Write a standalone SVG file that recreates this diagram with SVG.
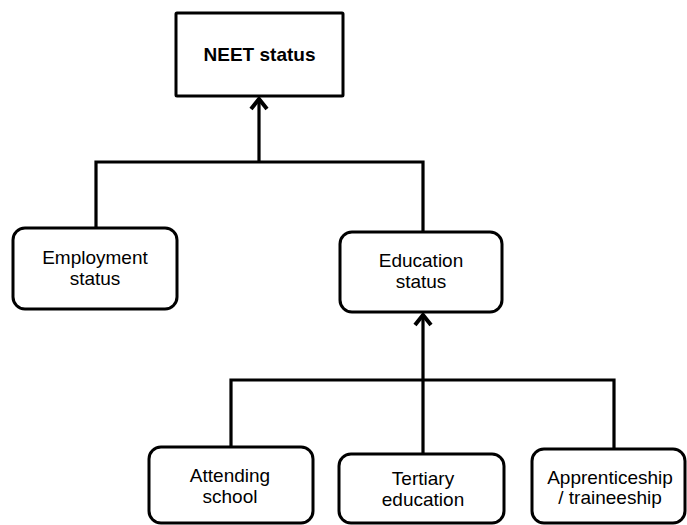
<svg xmlns="http://www.w3.org/2000/svg" width="687" height="525" viewBox="0 0 687 525">
  <style>
    .box { fill: #ffffff; stroke: #000000; stroke-width: 3; }
    .lbl { font-family: "Liberation Sans", Arial, sans-serif; font-size: 19px; fill: #000000; text-anchor: middle; }
    .bold { font-weight: bold; }
    .conn { fill: none; stroke: #000000; stroke-width: 3.2; stroke-linejoin: miter; }
  </style>
  <defs>
    <marker id="arrow" markerUnits="userSpaceOnUse" markerWidth="24" markerHeight="24" viewBox="-12 -12 24 24" refX="0" refY="0" orient="auto">
      <path d="M-10,-8 L0,0 L-10,8" fill="none" stroke="#000000" stroke-width="4"/>
    </marker>
  </defs>
  <rect width="687" height="525" fill="#ffffff"/>

  <g id="connectors">
    <path class="conn" d="M96,228 V162 H423 V232"/>
    <path class="conn" d="M259,162 V99" marker-end="url(#arrow)"/>
    <path class="conn" d="M231,447 V380 H614 V449"/>
    <path class="conn" d="M423,454 V315" marker-end="url(#arrow)"/>
  </g>

  <g id="neet">
    <rect class="box" x="176" y="13" width="167" height="83" rx="1"/>
    <text class="lbl bold" x="259.5" y="61">NEET status</text>
  </g>
  <g id="employment">
    <rect class="box" x="13" y="228" width="164" height="81" rx="12"/>
    <text class="lbl" x="95" y="264">Employment</text>
    <text class="lbl" x="95" y="285">status</text>
  </g>
  <g id="education">
    <rect class="box" x="340" y="232" width="162" height="80" rx="12"/>
    <text class="lbl" x="421" y="267">Education</text>
    <text class="lbl" x="421" y="288">status</text>
  </g>
  <g id="attending">
    <rect class="box" x="149" y="447" width="164" height="76" rx="12"/>
    <text class="lbl" x="230" y="482">Attending</text>
    <text class="lbl" x="230" y="503">school</text>
  </g>
  <g id="tertiary">
    <rect class="box" x="339" y="454" width="165" height="69" rx="12"/>
    <text class="lbl" x="423" y="485">Tertiary</text>
    <text class="lbl" x="423" y="506">education</text>
  </g>
  <g id="apprenticeship">
    <rect class="box" x="532" y="449" width="153" height="74" rx="12"/>
    <text class="lbl" x="610" y="484">Apprenticeship</text>
    <text class="lbl" x="610" y="504">/ traineeship</text>
  </g>
</svg>
